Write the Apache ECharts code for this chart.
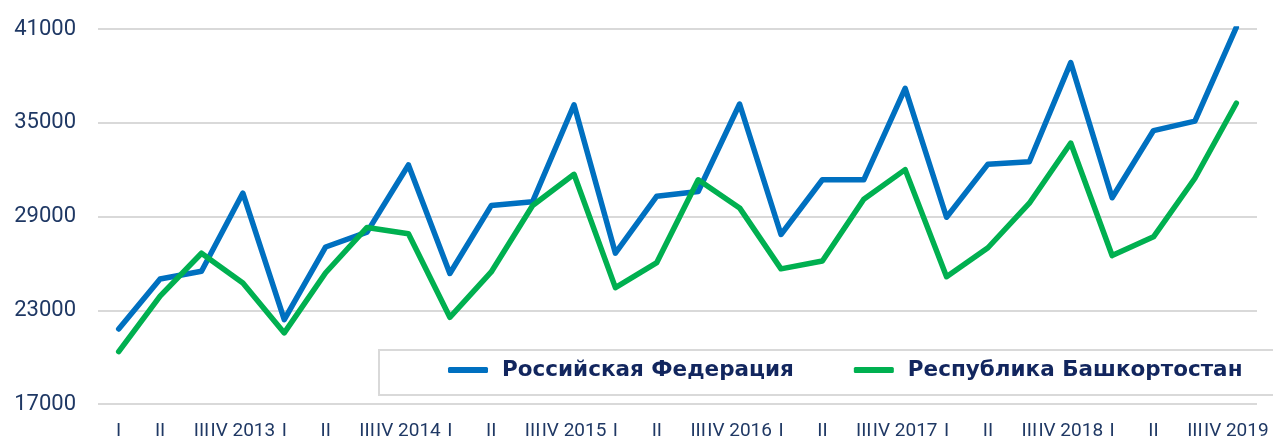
<!DOCTYPE html>
<html>
<head>
<meta charset="utf-8">
<script src="https://cdn.jsdelivr.net/npm/echarts@6/dist/echarts.min.js"></script>
<style>
  html, body { margin: 0; padding: 0; background: #fff; }
  #chart { width: 1273px; height: 441px; }
</style>
</head>
<body>
<div id="chart"></div>
<script>
// Quarterly categories, 2013–2019
const categories = [
  'I', 'II', 'III', 'IV 2013',
  'I', 'II', 'III', 'IV 2014',
  'I', 'II', 'III', 'IV 2015',
  'I', 'II', 'III', 'IV 2016',
  'I', 'II', 'III', 'IV 2017',
  'I', 'II', 'III', 'IV 2018',
  'I', 'II', 'III', 'IV 2019'
];

const russia = [
  21800, 25000, 25500, 30500,
  22400, 27050, 28000, 32300,
  25350, 29700, 29950, 36150,
  26650, 30300, 30600, 36200,
  27850, 31350, 31350, 37200,
  28950, 32350, 32500, 38850,
  30200, 34500, 35100, 41100
];

const bashkortostan = [
  20350, 23900, 26650, 24750,
  21550, 25400, 28300, 27900,
  22550, 25450, 29700, 31700,
  24450, 26050, 31350, 29550,
  25650, 26150, 30100, 32000,
  25150, 27000, 29850, 33700,
  26500, 27700, 31450, 36250
];

const seriesNames = ['Российская Федерация', 'Республика Башкортостан'];
const yTicks = { min: 17000, max: 41000, step: 6000 };

const textColor = '#1F3864';
const legendColor = '#12265E';
const chart = echarts.init(document.getElementById('chart'));

const lineSeries = (name, data, color) => ({
  name,
  type: 'line',
  data,
  symbol: 'none',
  smooth: false,
  lineStyle: { color, width: 5.5, cap: 'round', join: 'round' },
  itemStyle: { color }
});

chart.setOption({
  animation: false,
  grid: { left: 98, right: 16, top: 29, bottom: 36 },
  // framed panel behind the legend, running off the right edge
  graphic: [{
    type: 'rect',
    left: 378,
    top: 349,
    z: 5,
    shape: { width: 1000, height: 45 },
    style: { fill: '#fff', stroke: '#D9D9D9', lineWidth: 2 }
  }],
  legend: {
    data: seriesNames,
    left: 448,
    top: 359,
    z: 6,
    orient: 'horizontal',
    padding: 0,
    itemGap: 60,
    itemWidth: 40,
    itemHeight: 6,
    icon: 'roundRect',
    textStyle: {
      color: legendColor,
      fontFamily: 'DejaVu Sans',
      fontWeight: 'bold',
      fontSize: 21.5,
      padding: [0, 0, 0, 9]
    }
  },
  xAxis: {
    type: 'category',
    data: categories,
    boundaryGap: true,
    axisLine: { show: false },
    axisTick: { show: false },
    axisLabel: {
      interval: 0,
      color: textColor,
      fontFamily: 'Roboto',
      fontSize: 19,
      margin: 18
    }
  },
  yAxis: {
    type: 'value',
    min: yTicks.min,
    max: yTicks.max,
    interval: yTicks.step,
    axisLine: { show: false },
    axisTick: { show: false },
    splitLine: { lineStyle: { color: '#D9D9D9', width: 2 } },
    axisLabel: {
      color: textColor,
      fontFamily: 'Roboto',
      fontSize: 22,
      margin: 22,
      formatter: (v) => String(v)
    }
  },
  series: [
    lineSeries(seriesNames[0], russia, '#0070C0'),
    lineSeries(seriesNames[1], bashkortostan, '#00B050')
  ]
});
</script>
</body>
</html>
